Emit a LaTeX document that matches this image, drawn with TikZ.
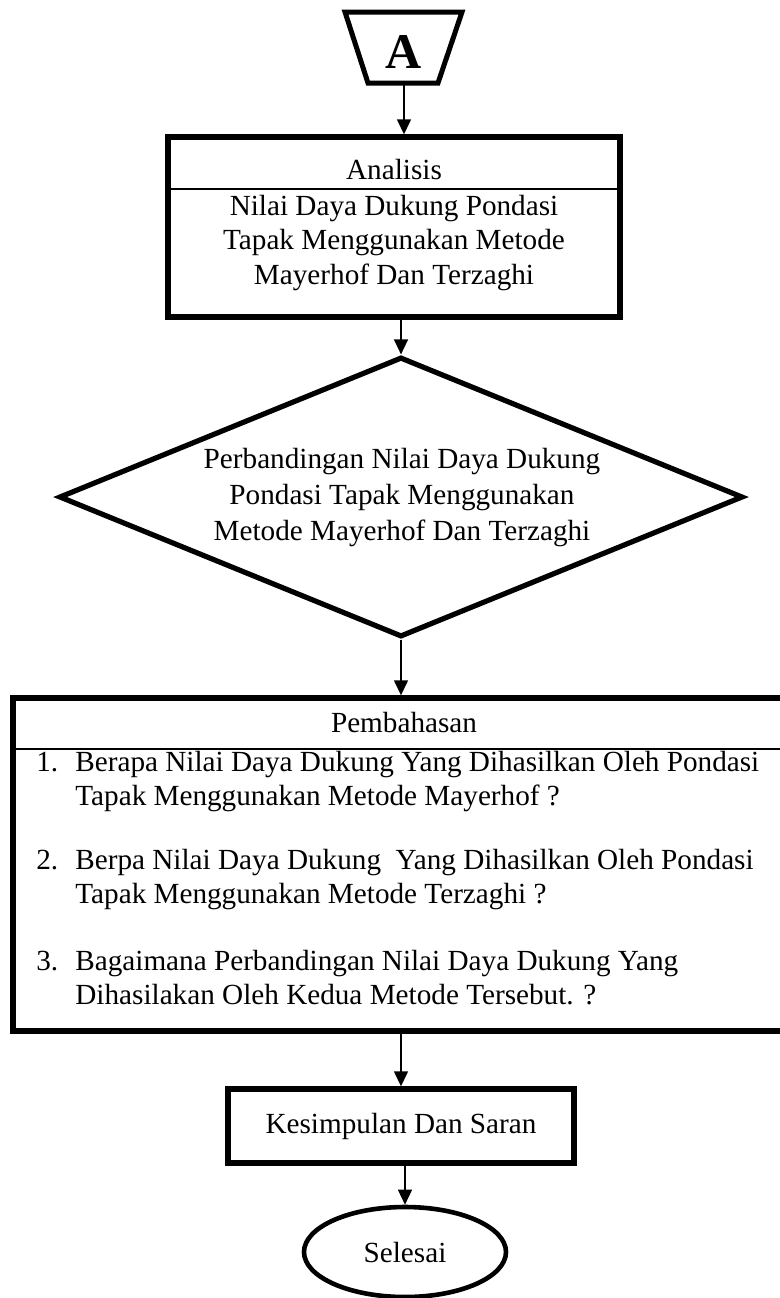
\documentclass[tikz,border=0pt]{standalone}
\usepackage{fontspec}
\setmainfont{Liberation Serif}
\usetikzlibrary{shapes.geometric,arrows.meta}

\newcommand{\itemnum}[1]{\makebox[19.5pt][l]{#1}}
\newcommand{\itemgap}{\hspace*{19.5pt}}

\begin{document}
\begin{tikzpicture}[x=0.5pt, y=-0.5pt,
  every node/.style={font=\fontsize{14.6}{17.2}\selectfont, inner sep=0pt},
  box/.style={draw, rectangle, line width=2.7pt},
  arr/.style={-{Triangle[length=7.5pt,width=7pt]}, line width=0.7pt},
  sepline/.style={line width=0.6pt},
  qtext/.style={anchor=west, align=left}]
\useasboundingbox (0,0) rectangle (780,1298);
% off-page connector
\draw[line width=2.5pt] (345,12) -- (462,12) -- (438,83) -- (368,83) -- cycle;
\node[font=\fontsize{25}{30}\selectfont\bfseries] (conA) at (404,52) {A};
\coordinate (conbot) at (404,83);
% analysis
\node[box, minimum width=226pt, minimum height=90pt] (ana) at (394,227) {};
\node (anaT) at (394,170) {Analisis};
\draw[sepline] (ana.west |- 0,189) -- (ana.east |- 0,189);
\node[align=center] (anaB) at (394,243) {Nilai Daya Dukung Pondasi\\Tapak Menggunakan Metode\\Mayerhof Dan Terzaghi};
% comparison
\node[draw, diamond, line width=2.6pt, minimum width=342pt, minimum height=140pt] (cmp) at (401,497) {};
\node[align=center, font=\fontsize{14.6}{18}\selectfont] (cmpT) at (402,498) {Perbandingan Nilai Daya Dukung\\Pondasi Tapak Menggunakan\\Metode Mayerhof Dan Terzaghi};
% discussion
\node[box, minimum width=391pt, minimum height=166.5pt] (pem) at (404,864.5) {};
\node (pemT) at (404,722) {Pembahasan};
\draw[sepline] (pem.west |- 0,749) -- (pem.east |- 0,749);
\node[qtext, font=\fontsize{14.6}{16.6}\selectfont] (q1) at (36,781.5) {\itemnum{1.}Berapa Nilai Daya Dukung Yang Dihasilkan Oleh Pondasi\\\itemgap Tapak Menggunakan Metode Mayerhof ?};
\node[qtext, font=\fontsize{14.6}{17.4}\selectfont] (q2) at (36,879.5) {\itemnum{2.}Berpa Nilai Daya Dukung~ Yang Dihasilkan Oleh Pondasi\\\itemgap Tapak Menggunakan Metode Terzaghi ?};
\node[qtext, font=\fontsize{14.6}{17.4}\selectfont] (q3) at (36,977.5) {\itemnum{3.}Bagaimana Perbandingan Nilai Daya Dukung Yang\\\itemgap Dihasilakan Oleh Kedua Metode Tersebut. ?};
% conclusion and end
\node[box, minimum width=173pt, minimum height=37pt] (kes) at (401,1126) {Kesimpulan Dan Saran};
\node[draw, ellipse, line width=2.3pt, minimum width=101pt, minimum height=45pt] (sel) at (405,1252) {Selesai};
% arrows
\draw[arr] (conbot) -- (conbot |- ana.north);
\draw[arr] (ana.south -| cmp.north) -- (cmp.north);
\draw[arr] (cmp.south) -- (cmp.south |- pem.north);
\draw[arr] (pem.south -| kes.north) -- (kes.north);
\draw[arr] (kes.south -| sel.north) -- (sel.north);
\end{tikzpicture}
\end{document}
